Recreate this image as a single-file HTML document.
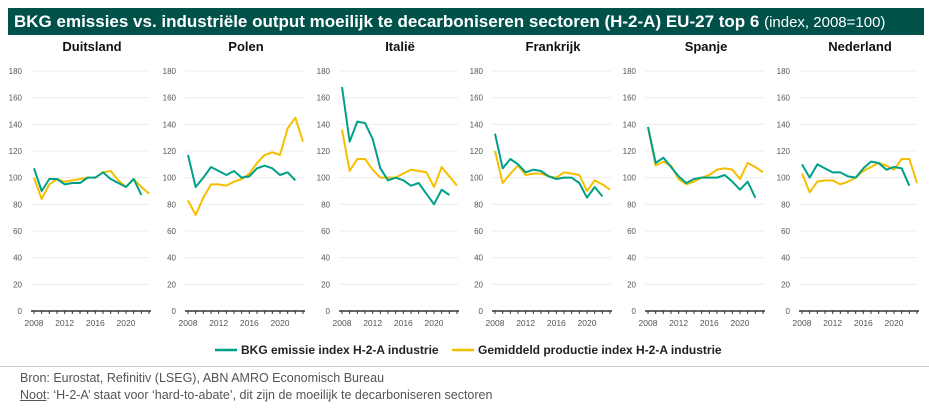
<!DOCTYPE html>
<html><head><meta charset="utf-8"><style>
body{margin:0;width:929px;height:410px;background:#fff;font-family:"Liberation Sans",sans-serif;overflow:hidden;position:relative}
#hdr{position:absolute;left:8px;top:8px;width:916px;height:27px;background:#00514a;color:#fff;font-weight:bold;font-size:17px;line-height:27px;padding-left:6px;box-sizing:border-box;white-space:nowrap}
#hdr span{font-weight:normal;font-size:15px}
.src{position:absolute;left:20px;font-size:12.5px;color:#555}
</style></head><body>
<div id="hdr">BKG emissies vs. industriële output moeilijk te decarboniseren sectoren (H-2-A) EU-27 top 6 <span>(index, 2008=100)</span></div>
<svg id="c" width="929" height="410" style="position:absolute;left:0;top:0"></svg>
<div style="position:absolute;left:0;top:366px;width:929px;height:1px;background:#ccc"></div>
<div class="src" style="top:371px">Bron: Eurostat, Refinitiv (LSEG), ABN AMRO Economisch Bureau</div>
<div class="src" style="top:388px"><u>Noot</u>: ‘H-2-A’ staat voor ‘hard-to-abate’, dit zijn de moeilijk te decarboniseren sectoren</div>
<script>
const countries=["Duitsland","Polen","Italië","Frankrijk","Spanje","Nederland"];
const years=[2008,2009,2010,2011,2012,2013,2014,2015,2016,2017,2018,2019,2020,2021,2022,2023];
const yTicks=[0,20,40,60,80,100,120,140,160,180];
const xTickLabels=[2008,2012,2016,2020];
const emissions=[
[107,90,99,99,95,96,96,100,100,104,99,96,93,99,87],
[117,93,100,108,105,102,105,100,101,107,109,107,102,104,98],
[168,127,142,141,129,107,98,100,98,94,96,88,80,91,87],
[133,107,114,110,104,106,105,101,99,100,100,96,85,93,86],
[138,111,115,108,101,96,99,100,100,100,102,97,91,97,85],
[110,100,110,107,104,104,101,100,107,112,111,106,108,107,94]];
const production=[
[100,84,95,99,97,98,99,100,100,104,105,98,93,99,93,88],
[83,72,85,95,95,94,97,99,103,111,117,119,117,137,145,127],
[136,105,114,114,106,100,100,100,103,106,105,104,93,108,101,94],
[120,96,103,109,102,103,103,101,100,104,103,102,90,98,95,91],
[138,109,112,109,99,95,97,100,102,106,107,106,99,111,108,104],
[103,89,97,98,98,95,97,100,105,108,111,109,106,114,114,96]];
const panelX=[34,188,342,495,648,802];
const NS="http://www.w3.org/2000/svg";
const svg=document.getElementById('c');
function mk(t,a,p){const e=document.createElementNS(NS,t);for(const k in a)e.setAttribute(k,a[k]);(p||svg).appendChild(e);return e;}
const y0=311,yk=240/180,xw=115;
const ys=v=>y0-v*yk;
countries.forEach((name,i)=>{
  const x0=panelX[i];
  const xs=yr=>x0+(yr-2008)*xw/15;
  const g=mk('g',{});
  
  
  const t=mk('text',{x:x0+58,y:51,'text-anchor':'middle','font-size':13,'font-weight':'bold',fill:'#111'},g);
  t.textContent=name;
  
  
  yTicks.forEach(v=>{
    if(v>0){const l=mk('line',{x1:x0-3,x2:x0+xw+1,y1:ys(v),y2:ys(v),stroke:'#ececec','stroke-width':1},g);
    
    }
    const tl=mk('text',{x:x0-12,y:ys(v)+3,'text-anchor':'end','font-size':8,fill:'#555'},g);
    tl.textContent=v;
    
    
  });
  const ax=mk('line',{x1:x0-3,x2:x0+xw+2,y1:y0,y2:y0,stroke:'#333','stroke-width':1.5},g);
  
  
  years.forEach(yr=>{mk('line',{x1:xs(yr),x2:xs(yr),y1:y0,y2:y0+3,stroke:'#333','stroke-width':1},g);});
  xTickLabels.forEach(yr=>{
    const xl=mk('text',{x:xs(yr),y:y0+15,'text-anchor':'middle','font-size':8.5,fill:'#555'},g);
    xl.textContent=yr;
    
    
  });
  const pts=arr=>arr.map((v,j)=>xs(years[j])+','+ys(v)).join(' ');
  const py=mk('polyline',{points:pts(production[i]),fill:'none',stroke:'#f5bf00','stroke-width':2,'stroke-linejoin':'round'},g);
  
  
  const pe=mk('polyline',{points:pts(emissions[i]),fill:'none',stroke:'#00a088','stroke-width':2,'stroke-linejoin':'round'},g);
  
  
});
const lg=mk('g',{});


const l1=mk('line',{x1:215,x2:237,y1:350,y2:350,stroke:'#00a088','stroke-width':2.5},lg);
const t1=mk('text',{x:241,y:354,'font-size':12,'font-weight':'bold',fill:'#222'},lg);
t1.textContent='BKG emissie index H-2-A industrie';


const l2=mk('line',{x1:452,x2:474,y1:350,y2:350,stroke:'#f5bf00','stroke-width':2.5},lg);
const t2=mk('text',{x:478,y:354,'font-size':12,'font-weight':'bold',fill:'#222'},lg);
t2.textContent='Gemiddeld productie index H-2-A industrie';


</script>
</body></html>
